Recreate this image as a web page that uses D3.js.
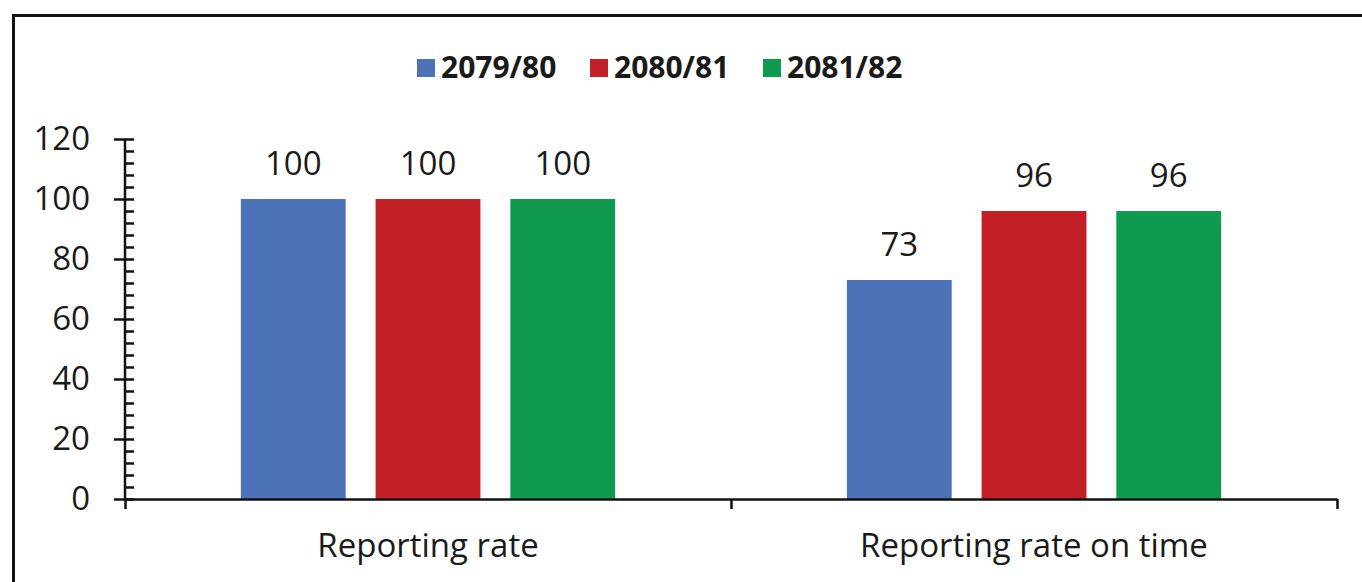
<!DOCTYPE html>
<html>
<head>
<meta charset="utf-8">
<script src="https://cdn.jsdelivr.net/npm/d3@7"></script>
<style>
  body { margin: 0; background: #fff; }
  text { font-family: "Open Sans", Lato, sans-serif; fill: #1a1a1a; }
</style>
</head>
<body>
<div id="my_dataviz"></div>
<script>
// data
var categories = ["Reporting rate", "Reporting rate on time"];
var seriesNames = ["2079/80", "2080/81", "2081/82"];
var seriesColors = ["#4e72b8", "#c21f27", "#0f9a50"];
var values2079 = [100, 73];
var values2080 = [100, 96];
var values2081 = [100, 96];
var yMajorTicks = [0, 20, 40, 60, 80, 100, 120];

var allValues = [values2079, values2080, values2081];

var width = 1362, height = 582;
var margin = {top: 139, right: 25, bottom: 83, left: 125};

var svg = d3.select("#my_dataviz")
    .append("svg")
    .attr("width", width)
    .attr("height", height);

// outer frame (cut off at right and bottom like the source)
svg.append("rect")
    .attr("x", 13.5)
    .attr("y", 15.5)
    .attr("width", 1400)
    .attr("height", 650)
    .attr("fill", "none")
    .attr("stroke", "#111")
    .attr("stroke-width", 3);

var x = d3.scaleBand()
    .domain(categories)
    .range([margin.left, width - margin.right])
    .padding(0);

var xInner = d3.scaleBand()
    .domain(seriesNames)
    .range([0, x.bandwidth()])
    .paddingInner(0.222)
    .paddingOuter(0.86);

var y = d3.scaleLinear()
    .domain([0, 120])
    .range([height - margin.bottom, margin.top]);

// rows for bars
var rows = [];
categories.forEach(function(c, i) {
    seriesNames.forEach(function(s, j) {
        rows.push({cat: c, series: s, value: allValues[j][i], color: seriesColors[j]});
    });
});

// bars
svg.append("g")
    .selectAll("rect")
    .data(rows)
    .enter()
    .append("rect")
    .attr("x", function(d) { return x(d.cat) + xInner(d.series); })
    .attr("y", function(d) { return y(d.value); })
    .attr("width", xInner.bandwidth())
    .attr("height", function(d) { return y(0) - y(d.value); })
    .attr("fill", function(d) { return d.color; });

// value labels
svg.append("g")
    .selectAll("text")
    .data(rows)
    .enter()
    .append("text")
    .attr("x", function(d) { return x(d.cat) + xInner(d.series) + xInner.bandwidth() / 2; })
    .attr("y", function(d) { return y(d.value) - 24; })
    .attr("text-anchor", "middle")
    .style("font-size", "33px")
    .text(function(d) { return d.value; });

// Y axis: major ticks crossing, minor ticks inside
var minorTicks = d3.range(0, 121, 4);
svg.append("g")
    .attr("transform", "translate(" + margin.left + ",0)")
    .call(d3.axisRight(y).tickValues(minorTicks).tickSize(9).tickSizeOuter(0).tickFormat(""))
    .call(function(g) { g.select(".domain").remove(); })
    .selectAll("line").attr("stroke", "#111").attr("stroke-width", 2.5);

var yAxis = svg.append("g")
    .attr("transform", "translate(" + margin.left + ",0)")
    .call(d3.axisLeft(y).tickValues(yMajorTicks).tickSize(11).tickSizeOuter(0).tickPadding(24));
yAxis.select(".domain").remove();
yAxis.selectAll("line").attr("stroke", "#111").attr("stroke-width", 2.5);
yAxis.selectAll("text").style("font-size", "33px").attr("fill", "#1a1a1a");

// X axis: tick marks at category boundaries
var xEdge = d3.scaleLinear()
    .domain([0, categories.length])
    .range([margin.left, width - margin.right]);
var xAxis = svg.append("g")
    .attr("transform", "translate(0," + y(0) + ")")
    .call(d3.axisBottom(xEdge).tickValues(d3.range(0, categories.length + 1)).tickSize(10).tickSizeOuter(0).tickFormat(""));
xAxis.select(".domain").attr("stroke", "#111").attr("stroke-width", 2.5);
xAxis.selectAll("line").attr("stroke", "#111").attr("stroke-width", 2.5);

// y axis line
svg.append("line")
    .attr("x1", margin.left).attr("x2", margin.left)
    .attr("y1", y(120)).attr("y2", y(0))
    .attr("stroke", "#111")
    .attr("stroke-width", 2.5);

// category labels
svg.append("g")
    .selectAll("text")
    .data(categories)
    .enter()
    .append("text")
    .attr("x", function(d) { return x(d) + x.bandwidth() / 2; })
    .attr("y", 557)
    .attr("text-anchor", "middle")
    .style("font-size", "33px")
    .text(function(d) { return d; });

// legend
var legendX = [417, 590, 763];
var legend = svg.append("g")
    .selectAll("g")
    .data(seriesNames)
    .enter()
    .append("g")
    .attr("transform", function(d, i) { return "translate(" + legendX[i] + ",0)"; });
legend.append("rect")
    .attr("x", 0)
    .attr("y", 59)
    .attr("width", 18)
    .attr("height", 18)
    .attr("fill", function(d, i) { return seriesColors[i]; });
legend.append("text")
    .attr("x", 24)
    .attr("y", 78)
    .style("font-size", "30px")
    .style("font-weight", "bold")
    .text(function(d) { return d; });
</script>
</body>
</html>
